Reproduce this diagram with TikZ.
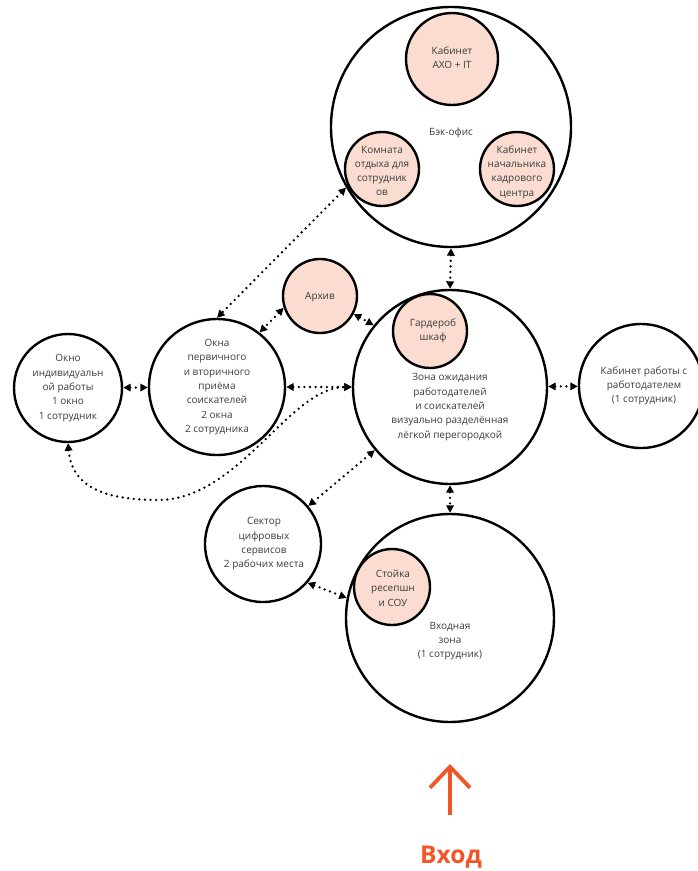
\documentclass[tikz,border=0pt]{standalone}
\usepackage{fontspec}
\setmainfont{Open Sans}
\usepackage{xcolor}
\usetikzlibrary{arrows.meta, calc}

\definecolor{roomfill}{RGB}{250,220,208}
\definecolor{labelgray}{RGB}{60,60,60}
\definecolor{entryorange}{RGB}{239,86,40}

\begin{document}
\begin{tikzpicture}[
    x=1pt, y=-1pt,
    zone/.style={circle, draw, line width=2.4pt, inner sep=0pt},
    room/.style={zone, fill=roomfill},
    txt/.style={align=center, font=\fontsize{10}{14.3}\selectfont, text=labelgray},
    link/.style={{Triangle[length=7.5pt,width=7.5pt]}-{Triangle[length=7.5pt,width=7.5pt]}, line width=2.6pt, line cap=round, dash pattern=on 0pt off 5.6pt},
    entryarrow/.style={-{Straight Barb[length=21pt,width=40pt]}, line width=3.8pt, entryorange}
]
\useasboundingbox (0,0) rectangle (697,871);

% Back office (top)
\node[zone, minimum size=240pt] (back) at (451,127) {};
\node[txt] (backtxt) at (451,133) {Бэк-офис};
\node[room, minimum size=92pt] (axo) at (452,59) {};
\node[txt] (axotxt) at (452,58) {Кабинет\\АХО + IT};
\node[room, minimum size=74pt] (rest) at (382,169) {};
\node[txt] (resttxt) at (382,171) {Комната\\отдыха для\\сотрудник\\ов};
\node[room, minimum size=74pt] (hr) at (517,169) {};
\node[txt] (hrtxt) at (517,172) {Кабинет\\начальника\\кадрового\\центра};

% Middle row: windows, waiting zone, employer office
\node[zone, minimum size=108pt] (ind) at (68,388) {};
\node[txt] (indtxt) at (68,388) {Окно\\индивидуальн\\ой работы\\1 окно\\1 сотрудник};
\node[zone, minimum size=136pt] (okna) at (217,387) {};
\node[txt] (oknatxt) at (217,387) {Окна\\первичного\\и вторичного\\приёма\\соискателей\\2 окна\\2 сотрудника};
\node[room, minimum size=74pt] (arch) at (320,296) {};
\node[txt] (archtxt) at (320,297) {Архив};
\node[zone, minimum size=194pt] (zone) at (450,387) {};
\node[room, minimum size=74pt] (ward) at (430,331) {};
\node[txt] (wardtxt) at (433,331) {Гардероб\\шкаф};
\node[txt] (zonetxt) at (450,407) {Зона ожидания\\работодателей\\и соискателей\\визуально разделённая\\лёгкой перегородкой};
\node[zone, minimum size=124pt] (emp) at (641,386) {};
\node[txt] (emptxt) at (644,386) {Кабинет работы с\\работодателем\\(1 сотрудник)};

% Bottom: digital services and entrance hall
\node[zone, minimum size=116pt] (digi) at (263,544) {};
\node[txt] (digitxt) at (264,544) {Сектор\\цифровых\\сервисов\\2 рабочих места};
\node[zone, minimum size=208pt] (hall) at (450,618) {};
\node[room, minimum size=76pt] (desk) at (392,587) {};
\node[txt] (desktxt) at (393,588) {Стойка\\ресепшн\\и СОУ};
\node[txt] (halltxt) at (450,641) {Входная\\зона\\(1 сотрудник)};

% Entrance
\node[font=\fontsize{24.5}{26}\selectfont\bfseries, text=entryorange] (entry) at (451,857) {Вход};
\coordinate (entrybase) at (450,815);
\coordinate (entrytip) at (450,764);
\draw[entryarrow] (entrybase) -- (entrytip);

% === Links ===
\draw[link] (back.south) -- (zone.north);
\draw[link] (back.210) -- (okna.north);
\draw[link] (arch.198) -- (okna.52);
\draw[link] (arch.332) -- (zone.141);
\draw[link] (ind) -- (okna);
\draw[link] (okna) -- (zone);
\draw[link] (zone) -- (emp);
\draw[link] (zone) -- (digi);
\draw[link] (zone.south) -- (hall.north);
\draw[link] (digi.319) -- (hall.169);

% Long link from the single window to the waiting zone
\draw[link] (ind.south) .. controls (72,490) and (110,500) .. (160,500)
    .. controls (240,498) and (290,387) .. (zone.west);
\end{tikzpicture}
\end{document}
